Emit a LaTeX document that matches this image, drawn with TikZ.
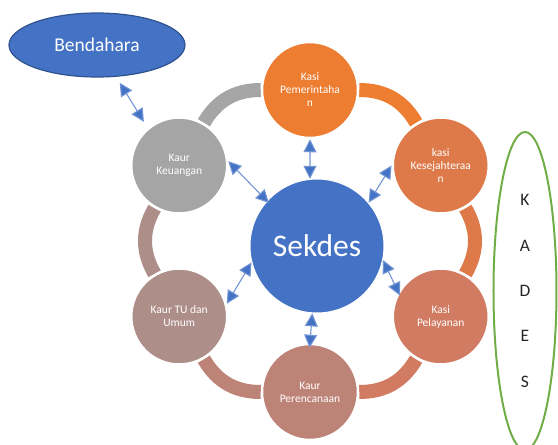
\documentclass[tikz,border=0pt]{standalone}
\usepackage{fontspec}
\setmainfont{Carlito}
\definecolor{sekblue}{RGB}{68, 114, 196}
\definecolor{sekedge}{RGB}{47, 82, 143}
\definecolor{pemorange}{RGB}{237, 125, 49}
\definecolor{kesorange}{RGB}{222, 122, 74}
\definecolor{pelsalmon}{RGB}{209, 123, 98}
\definecolor{perrose}{RGB}{190, 131, 119}
\definecolor{turose}{RGB}{173, 142, 137}
\definecolor{keugrey}{RGB}{165, 165, 165}
\definecolor{kadesgreen}{RGB}{112, 173, 71}
\definecolor{kadestext}{RGB}{38, 38, 38}
\usetikzlibrary{shapes.geometric, arrows.meta, backgrounds}

\begin{document}
\begin{tikzpicture}[
    x=1pt, y=1pt,
    seksi/.style={
        circle, draw=white, line width=2.5pt, minimum size=96pt, inner sep=0pt,
        text=white, align=center, font=\fontsize{11.5}{13}\selectfont
    },
    hub/.style={
        circle, draw=white, line width=1pt, fill=sekblue, minimum size=134pt, inner sep=0pt,
        text=white, font=\fontsize{31.5}{34}\selectfont
    },
    ringarc/.style={
        line width=14pt
    },
    link/.style={
        {Triangle[width=13pt, length=13pt, fill=sekblue]}-{Triangle[width=13pt, length=13pt, fill=sekblue]},
        draw=sekblue!75, line width=1.1pt
    }
]
\useasboundingbox (-310,-204) rectangle (248,241);

% Centre: Sekdes
\node[hub] (sekdes) at (7,-5) {Sekdes};

% Ring of seksi / kaur
\node[seksi, fill=pemorange] (pem) at (90:151) {Kasi\\Pemerintaha\\n};
\node[seksi, fill=kesorange] (kes) at (30:151) {kasi\\Kesejahteraa\\n};
\node[seksi, fill=pelsalmon] (pel) at (-30:151) {Kasi\\Pelayanan};
\node[seksi, fill=perrose] (per) at (-90:151) {Kaur\\Perencanaan};
\node[seksi, fill=turose] (tu) at (-150:151) {Kaur TU dan\\Umum};
\node[seksi, fill=keugrey] (keu) at (150:151) {Kaur\\Keuangan};

% Bendahara and Kades
\node[ellipse, draw=sekedge, fill=sekblue, line width=1.2pt, minimum width=176pt, minimum height=64pt,
    text=white, font=\fontsize{19.5}{22}\selectfont] (bend) at (-213,196) {Bendahara};
\node[ellipse, draw=kadesgreen, line width=2pt, minimum width=63pt, minimum height=318pt, inner sep=0pt,
    align=center, text=kadestext, font=\fontsize{17.5}{45.3}\selectfont] (kades) at (215,-50) {K\\A\\D\\E\\S};

% Ring segments (behind the circles)
\begin{scope}[on background layer]
\draw[ringarc, keugrey] (keu) to[bend left=30] (pem);
\draw[ringarc, pemorange] (pem) to[bend left=30] (kes);
\draw[ringarc, kesorange] (kes) to[bend left=30] (pel);
\draw[ringarc, pelsalmon] (pel) to[bend left=30] (per);
\draw[ringarc, perrose] (per) to[bend left=30] (tu);
\draw[ringarc, turose] (tu) to[bend left=30] (keu);
\end{scope}

% Links to Sekdes
\draw[link] (sekdes.96) -- (pem.-90);
\draw[link] (sekdes.40) -- (kes.180);
\draw[link, shorten >=-4pt] (sekdes.-12) -- (pel.150);
\draw[link, shorten >=-5pt] (sekdes.-94) -- (per.90);
\draw[link] (sekdes.194) -- (tu.15);
\draw[link, shorten <=-3pt] (sekdes.138) -- (keu.5);
\draw[link, shorten <=7pt, shorten >=7pt] (bend.-59) -- (keu.130);

\end{tikzpicture}
\end{document}
